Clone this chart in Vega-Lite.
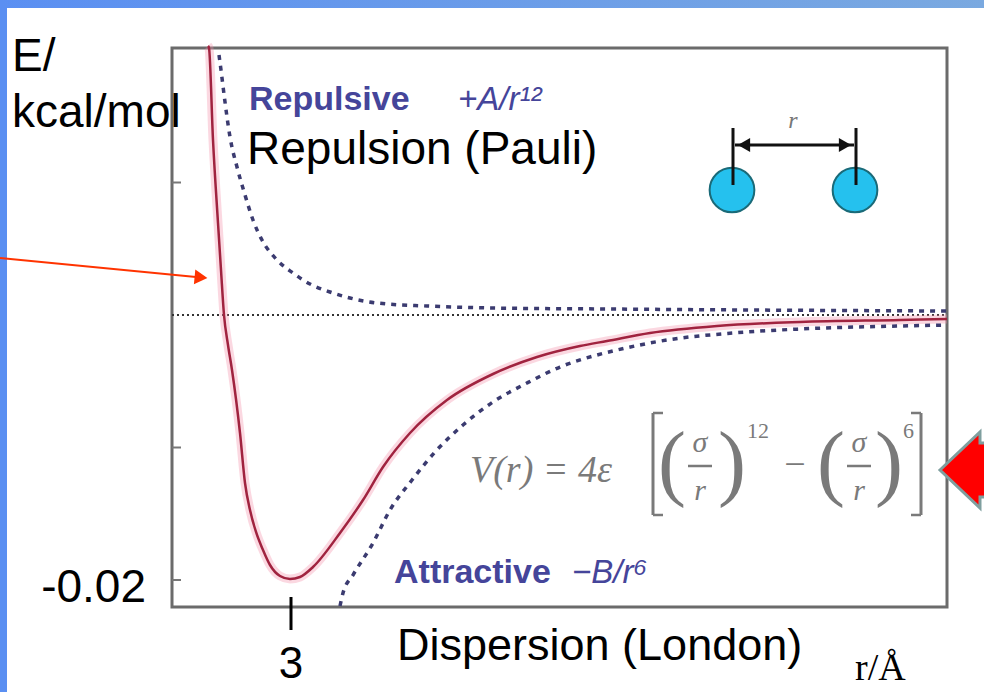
{
  "$schema": "https://vega.github.io/schema/vega-lite/v6.json",
  "autosize": {"type": "none"},
  "width": 984,
  "height": 692,
  "padding": 0,
  "background": "white",
  "config": {"view": {"stroke": null}},
  "encoding": {
    "x": {"field": "x", "type": "quantitative", "scale": {"domain": [1.545, 6.465], "nice": false, "zero": false}, "axis": null},
    "y": {"field": "y", "type": "quantitative", "scale": {"domain": [-0.028453, 0.023774], "nice": false, "zero": false}, "axis": null}
  },
  "layer": [
    {
      "data": {"values": [{"x": 1.545, "x2": 1.58, "y": -0.028453, "y2": 0.023774}]},
      "mark": {"type": "rect", "color": "#5a8ff2"},
      "encoding": {"x2": {"field": "x2"}, "y2": {"field": "y2"}}
    },
    {
      "data": {"values": [{"x": 1.545, "x2": 6.465, "y": 0.02317, "y2": 0.023774}]},
      "mark": {"type": "rect", "color": {"x1": 0, "y1": 0, "x2": 1, "y2": 0, "gradient": "linear", "stops": [{"offset": 0, "color": "#5a8ff2"}, {"offset": 1, "color": "#7aa9e0"}]}},
      "encoding": {"x2": {"field": "x2"}, "y2": {"field": "y2"}}
    },
    {
      "data": {"values": [{"x": 2.405, "x2": 6.28, "y": -0.022038, "y2": 0.020151}]},
      "mark": {"type": "rect", "fill": null, "fillOpacity": 0, "stroke": "#6b6b6b", "strokeWidth": 3},
      "encoding": {"x2": {"field": "x2"}, "y2": {"field": "y2"}}
    },
    {
      "data": {"values": [{"x": 2.405, "x2": 2.45, "y": 0.01}, {"x": 2.405, "x2": 2.45, "y": -0.01}, {"x": 2.405, "x2": 2.45, "y": -0.02}]},
      "mark": {"type": "rule", "color": "#777777", "strokeWidth": 2},
      "encoding": {"x2": {"field": "x2"}}
    },
    {
      "data": {"values": [{"x": 2.405, "x2": 6.28, "y": 0}]},
      "mark": {"type": "rule", "color": "#333333", "strokeWidth": 2, "strokeDash": [2, 3]},
      "encoding": {"x2": {"field": "x2"}}
    },
    {
      "data": {"name": "lj", "values": [
        {"x": 2.585, "y": 0.020302}, {"x": 2.590, "y": 0.020151}, {"x": 2.610, "y": 0.013208}, {"x": 2.635, "y": 0.006943},
        {"x": 2.650, "y": 0.003396}, {"x": 2.665, "y": 0}, {"x": 2.685, "y": -0.002264}, {"x": 2.705, "y": -0.004151},
        {"x": 2.745, "y": -0.008906}, {"x": 2.770, "y": -0.012679}, {"x": 2.795, "y": -0.014717}, {"x": 2.825, "y": -0.016377},
        {"x": 2.860, "y": -0.017736}, {"x": 2.895, "y": -0.018868}, {"x": 2.945, "y": -0.019698}, {"x": 2.995, "y": -0.019925},
        {"x": 3.045, "y": -0.019774}, {"x": 3.110, "y": -0.019019}, {"x": 3.245, "y": -0.016453}, {"x": 3.360, "y": -0.013962},
        {"x": 3.460, "y": -0.011472}, {"x": 3.595, "y": -0.008906}, {"x": 3.780, "y": -0.006415}, {"x": 4.010, "y": -0.004453},
        {"x": 4.230, "y": -0.003170}, {"x": 4.445, "y": -0.002340}, {"x": 4.580, "y": -0.001962}, {"x": 4.795, "y": -0.001358},
        {"x": 5.130, "y": -0.000830}, {"x": 5.545, "y": -0.000528}, {"x": 6.045, "y": -0.000377}, {"x": 6.280, "y": -0.000302}
      ]},
      "mark": {"type": "line", "color": "#f48fa8", "strokeWidth": 9, "opacity": 0.35, "interpolate": "monotone"}
    },
    {
      "data": {"name": "lj"},
      "mark": {"type": "line", "color": "#a0233f", "strokeWidth": 2.5, "interpolate": "monotone"}
    },
    {
      "data": {"values": [
        {"x": 2.640, "y": 0.019623}, {"x": 2.650, "y": 0.018491}, {"x": 2.670, "y": 0.016075}, {"x": 2.695, "y": 0.013434},
        {"x": 2.730, "y": 0.011170}, {"x": 2.770, "y": 0.009057}, {"x": 2.810, "y": 0.007170}, {"x": 2.855, "y": 0.005660},
        {"x": 2.930, "y": 0.004151}, {"x": 3.010, "y": 0.003170}, {"x": 3.095, "y": 0.002340}, {"x": 3.195, "y": 0.001736},
        {"x": 3.295, "y": 0.001283}, {"x": 3.430, "y": 0.000906}, {"x": 3.680, "y": 0.000679}, {"x": 4.010, "y": 0.000528},
        {"x": 4.580, "y": 0.000453}, {"x": 5.295, "y": 0.000377}, {"x": 6.280, "y": 0.000302}
      ]},
      "mark": {"type": "line", "color": "#3b3b70", "strokeWidth": 3.5, "strokeDash": [5, 6], "interpolate": "monotone"}
    },
    {
      "data": {"values": [
        {"x": 3.245, "y": -0.021962}, {"x": 3.260, "y": -0.020981}, {"x": 3.310, "y": -0.019623}, {"x": 3.410, "y": -0.017208},
        {"x": 3.495, "y": -0.014717}, {"x": 3.605, "y": -0.012453}, {"x": 3.720, "y": -0.010340}, {"x": 3.860, "y": -0.008302},
        {"x": 4.010, "y": -0.006566}, {"x": 4.180, "y": -0.005132}, {"x": 4.345, "y": -0.003925}, {"x": 4.530, "y": -0.003019},
        {"x": 4.630, "y": -0.002642}, {"x": 4.880, "y": -0.001887}, {"x": 5.210, "y": -0.001358}, {"x": 5.545, "y": -0.001057},
        {"x": 6.045, "y": -0.000830}, {"x": 6.280, "y": -0.000755}
      ]},
      "mark": {"type": "line", "color": "#3b3b70", "strokeWidth": 3.5, "strokeDash": [5, 6], "interpolate": "monotone"}
    },
    {
      "data": {"values": [{"x": 3.0, "y": -0.021283, "y2": -0.023774}]},
      "mark": {"type": "rule", "color": "black", "strokeWidth": 3},
      "encoding": {"y2": {"field": "y2"}}
    },
    {
      "data": {"values": [{"x": 1.545, "y": 0.004302, "x2": 2.525, "y2": 0.002868}]},
      "mark": {"type": "rule", "color": "#ff3300", "strokeWidth": 2},
      "encoding": {"x2": {"field": "x2"}, "y2": {"field": "y2"}}
    },
    {
      "data": {"values": [{"x": 2.55, "y": 0.00283}]},
      "mark": {"type": "point", "shape": "triangle-right", "angle": 5.5, "size": 220, "filled": true, "color": "#ff3300", "opacity": 1}
    },
    {
      "data": {"values": [{"x": 6.345, "y": -0.011698}]},
      "mark": {"type": "point", "shape": "M-1,0 L1,-1.9 L1,-1.35 L1.5,-1.35 L1.5,1.35 L1,1.35 L1,1.9 Z", "size": 1600, "filled": true, "fill": "#ff0000", "stroke": "#7f9f9f", "strokeWidth": 3, "opacity": 1}
    },
    {
      "data": {"values": [{"x": 5.205, "y": 0.009434}, {"x": 5.82, "y": 0.009434}]},
      "mark": {"type": "circle", "size": 2000, "fill": "#25c1ee", "stroke": "#1a6a78", "strokeWidth": 2, "opacity": 1}
    },
    {
      "data": {"values": [{"x": 5.21, "y": 0.014113, "y2": 0.009811}, {"x": 5.825, "y": 0.014113, "y2": 0.009811}]},
      "mark": {"type": "rule", "color": "#111111", "strokeWidth": 3},
      "encoding": {"y2": {"field": "y2"}}
    },
    {
      "data": {"values": [{"x": 5.22, "x2": 5.815, "y": 0.01283}]},
      "mark": {"type": "rule", "color": "#111111", "strokeWidth": 3},
      "encoding": {"x2": {"field": "x2"}}
    },
    {
      "data": {"values": [{"x": 5.265, "y": 0.01283}]},
      "mark": {"type": "point", "shape": "triangle-left", "size": 200, "filled": true, "color": "#111111", "opacity": 1}
    },
    {
      "data": {"values": [{"x": 5.77, "y": 0.01283}]},
      "mark": {"type": "point", "shape": "triangle-right", "size": 200, "filled": true, "color": "#111111", "opacity": 1}
    },
    {
      "data": {"values": [{"x": 5.51, "y": 0.014113, "t": "r"}]},
      "mark": {"type": "text", "font": "Liberation Serif", "fontStyle": "italic", "fontSize": 24, "color": "#777777", "align": "center", "baseline": "alphabetic"},
      "encoding": {"text": {"field": "t"}}
    },
    {
      "data": {"values": [
        {"x": 1.605, "y": 0.018415, "t": "E/"},
        {"x": 1.605, "y": 0.014189, "t": "kcal/mol"},
        {"x": 2.78, "y": 0.011396, "t": "Repulsion (Pauli)"}
      ]},
      "mark": {"type": "text", "font": "Liberation Sans", "fontSize": 46, "color": "black", "align": "left", "baseline": "alphabetic"},
      "encoding": {"text": {"field": "t"}}
    },
    {
      "data": {"values": [{"x": 3.53, "y": -0.026038, "t": "Dispersion (London)"}]},
      "mark": {"type": "text", "font": "Liberation Sans", "fontSize": 45, "color": "black", "align": "left", "baseline": "alphabetic"},
      "encoding": {"text": {"field": "t"}}
    },
    {
      "data": {"values": [{"x": 2.275, "y": -0.02166, "t": "-0.02"}]},
      "mark": {"type": "text", "font": "Liberation Sans", "fontSize": 46, "color": "black", "align": "right", "baseline": "alphabetic"},
      "encoding": {"text": {"field": "t"}}
    },
    {
      "data": {"values": [{"x": 3.0, "y": -0.027396, "t": "3"}]},
      "mark": {"type": "text", "font": "Liberation Sans", "fontSize": 44, "color": "black", "align": "center", "baseline": "alphabetic"},
      "encoding": {"text": {"field": "t"}}
    },
    {
      "data": {"values": [{"x": 5.82, "y": -0.027547, "t": "r/Å"}]},
      "mark": {"type": "text", "font": "Liberation Serif", "fontSize": 38, "color": "black", "align": "left", "baseline": "alphabetic"},
      "encoding": {"text": {"field": "t"}}
    },
    {
      "data": {"values": [{"x": 2.79, "y": 0.015472, "t": "Repulsive"}, {"x": 3.515, "y": -0.020226, "t": "Attractive"}]},
      "mark": {"type": "text", "font": "Liberation Sans", "fontWeight": "bold", "fontSize": 34, "color": "#45459a", "align": "left", "baseline": "alphabetic"},
      "encoding": {"text": {"field": "t"}}
    },
    {
      "data": {"values": [{"x": 3.835, "y": 0.015472, "t": "+A/r¹²"}, {"x": 4.405, "y": -0.020226, "t": "−B/r⁶"}]},
      "mark": {"type": "text", "font": "Liberation Sans", "fontStyle": "italic", "fontSize": 33, "color": "#45459a", "align": "left", "baseline": "alphabetic"},
      "encoding": {"text": {"field": "t"}}
    },
    {
      "data": {"values": [{"x": 3.895, "y": -0.012604, "t": "V(r) = 4ε"}]},
      "mark": {"type": "text", "font": "Liberation Serif", "fontStyle": "italic", "fontSize": 38, "color": "#7a7a7a", "align": "left", "baseline": "alphabetic"},
      "encoding": {"text": {"field": "t"}}
    },
    {
      "data": {"values": [
        {"x": 4.81, "y": -0.007396, "y2": -0.015094},
        {"x": 6.15, "y": -0.007396, "y2": -0.015094}
      ]},
      "mark": {"type": "rule", "color": "#7a7a7a", "strokeWidth": 3},
      "encoding": {"y2": {"field": "y2"}}
    },
    {
      "data": {"values": [
        {"x": 4.81, "x2": 4.86, "y": -0.007396}, {"x": 4.81, "x2": 4.86, "y": -0.015094},
        {"x": 6.10, "x2": 6.15, "y": -0.007396}, {"x": 6.10, "x2": 6.15, "y": -0.015094},
        {"x": 4.985, "x2": 5.105, "y": -0.011396}, {"x": 5.78, "x2": 5.90, "y": -0.011396}
      ]},
      "mark": {"type": "rule", "color": "#7a7a7a", "strokeWidth": 2.5},
      "encoding": {"x2": {"field": "x2"}}
    },
    {
      "data": {"values": [
        {"x": 4.905, "y": -0.011321, "t": "("}, {"x": 5.205, "y": -0.011321, "t": ")"},
        {"x": 5.70, "y": -0.011321, "t": "("}, {"x": 5.99, "y": -0.011321, "t": ")"}
      ]},
      "mark": {"type": "text", "font": "Liberation Serif", "fontSize": 84, "color": "#7a7a7a", "align": "center", "baseline": "middle"},
      "encoding": {"text": {"field": "t"}}
    },
    {
      "data": {"values": [
        {"x": 5.045, "y": -0.01034, "t": "σ"}, {"x": 5.84, "y": -0.01034, "t": "σ"},
        {"x": 5.045, "y": -0.013962, "t": "r"}, {"x": 5.84, "y": -0.013962, "t": "r"}
      ]},
      "mark": {"type": "text", "font": "Liberation Serif", "fontStyle": "italic", "fontSize": 30, "color": "#7a7a7a", "align": "center", "baseline": "alphabetic"},
      "encoding": {"text": {"field": "t"}}
    },
    {
      "data": {"values": [{"x": 5.28, "y": -0.009283, "t": "12"}, {"x": 6.06, "y": -0.009283, "t": "6"}]},
      "mark": {"type": "text", "font": "Liberation Serif", "fontSize": 22, "color": "#7a7a7a", "align": "left", "baseline": "alphabetic"},
      "encoding": {"text": {"field": "t"}}
    },
    {
      "data": {"values": [{"x": 5.52, "y": -0.011396, "t": "−"}]},
      "mark": {"type": "text", "font": "Liberation Serif", "fontSize": 38, "color": "#7a7a7a", "align": "center", "baseline": "middle"},
      "encoding": {"text": {"field": "t"}}
    }
  ]
}
